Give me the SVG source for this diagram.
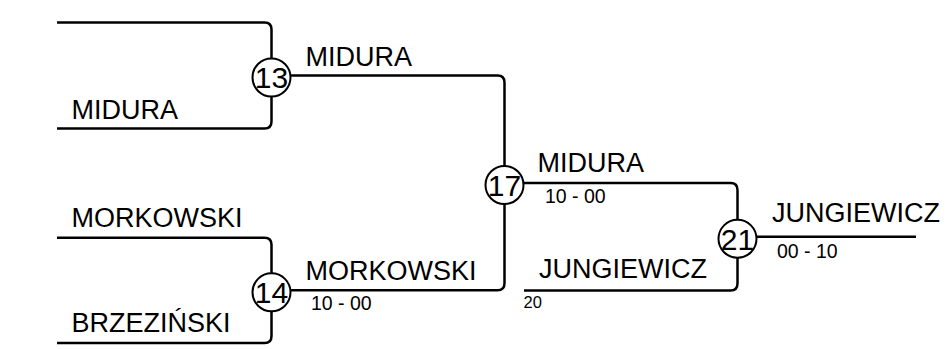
<svg xmlns="http://www.w3.org/2000/svg" width="946" height="349" viewBox="0 0 946 349">
<style>
.ln{fill:none;stroke:#000;stroke-width:2.5;stroke-linecap:butt;stroke-linejoin:round}
.c{fill:#fff;stroke:#000;stroke-width:2}
.num{font-family:"Liberation Sans",Arial,sans-serif;font-size:30px;text-anchor:middle;fill:#000}
.name{font-family:"Liberation Sans",Arial,sans-serif;font-size:27px;fill:#000}
.score{font-family:"Liberation Sans",Arial,sans-serif;font-size:19.5px;fill:#000}
.small{font-family:"Liberation Sans",Arial,sans-serif;font-size:16.5px;fill:#000}
</style>
<rect width="946" height="349" fill="#fff"/>
<g id="connectors">
<path class="ln" d="M57,22.5 H264.5 Q271.5,22.5 271.5,29.5 V59"/>
<path class="ln" d="M57,128.5 H264.5 Q271.5,128.5 271.5,121.5 V96"/>
<path class="ln" d="M290,75.5 H497.5 Q504.5,75.5 504.5,82.5 V166.5"/>
<path class="ln" d="M57,237.7 H264.5 Q271.5,237.7 271.5,244.7 V274"/>
<path class="ln" d="M57,343 H264.5 Q271.5,343 271.5,336 V311"/>
<path class="ln" d="M290,290.3 H497.5 Q504.5,290.3 504.5,283.3 V203.5"/>
<path class="ln" d="M523,183 H730.5 Q737.5,183 737.5,190 V220.5"/>
<path class="ln" d="M524,290.5 H730.5 Q737.5,290.5 737.5,283.5 V257.5"/>
<path class="ln" d="M756,236.8 H916"/>
</g>
<g id="labels">
<text class="name" x="71.5" y="118.5">MIDURA</text>
<text class="name" x="71.5" y="227">MORKOWSKI</text>
<text class="name" x="71.5" y="331.5">BRZEZIŃSKI</text>
<text class="name" x="305.5" y="65.5">MIDURA</text>
<text class="name" x="305.5" y="280">MORKOWSKI</text>
<text class="score" x="311" y="310">10 - 00</text>
<text class="name" x="537.5" y="172.3">MIDURA</text>
<text class="score" x="545" y="203.3">10 - 00</text>
<text class="name" x="539" y="278">JUNGIEWICZ</text>
<text class="small" x="523.5" y="307.5">20</text>
<text class="name" x="772" y="221.7">JUNGIEWICZ</text>
<text class="score" x="777" y="258.3">00 - 10</text>
</g>
<g id="match-13">
<circle class="c" cx="271.5" cy="77.5" r="19"/>
<text class="num" x="271.5" y="88.3">13</text>
</g>
<g id="match-14">
<circle class="c" cx="271.5" cy="292.3" r="19"/>
<text class="num" x="271.5" y="303.1">14</text>
</g>
<g id="match-17">
<circle class="c" cx="504.5" cy="185" r="19"/>
<text class="num" x="504.5" y="195.8">17</text>
</g>
<g id="match-21">
<circle class="c" cx="737.5" cy="238.8" r="19"/>
<text class="num" x="737.5" y="249.6">21</text>
</g>
</svg>
